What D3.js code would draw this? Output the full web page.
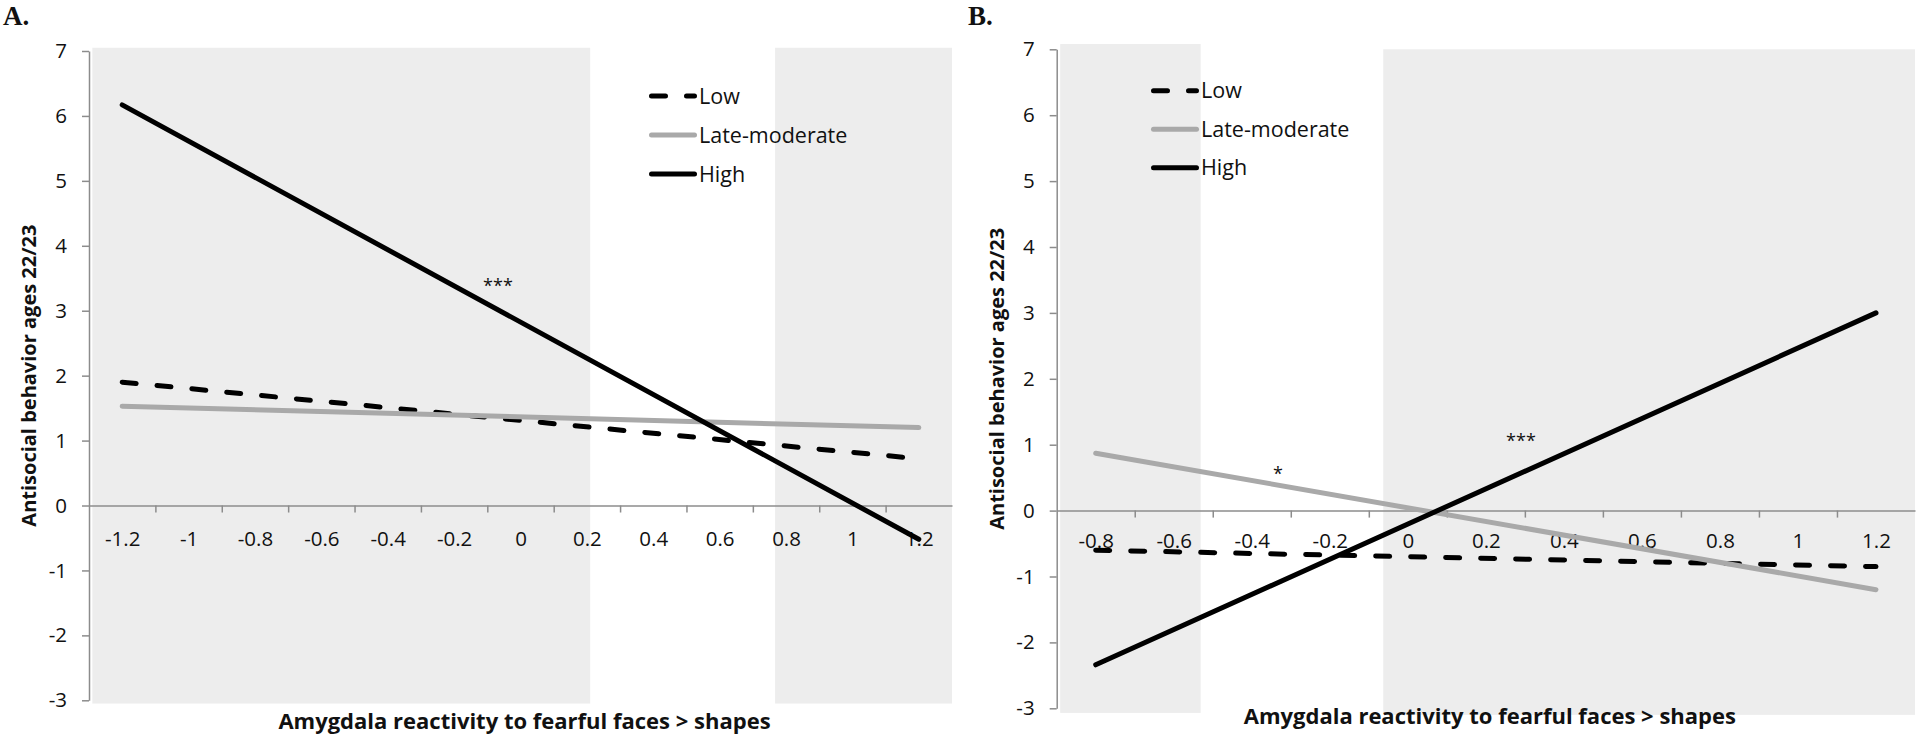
<!DOCTYPE html>
<html>
<head>
<meta charset="utf-8">
<script src="https://cdn.jsdelivr.net/npm/d3@7"></script>
<style>
  html, body { margin: 0; padding: 0; background: #fff; }
  svg { display: block; }
  text { font-family: "Open Sans", "Noto Sans", sans-serif; fill: #111; }
</style>
</head>
<body>
<svg id="chart" width="1920" height="741"></svg>
<script>
// ---------------- data ----------------
const seriesNames = ["Low", "Late-moderate", "High"];
const yTicks = [-3, -2, -1, 0, 1, 2, 3, 4, 5, 6, 7];

// Panel A
const categoriesA = [-1.2, -1, -0.8, -0.6, -0.4, -0.2, 0, 0.2, 0.4, 0.6, 0.8, 1, 1.2];
const endpointsA = [-1.2, 1.2];
const lowA  = [1.90, 0.72];
const lateA = [1.53, 1.20];
const highA = [6.17, -0.52];
const shadeXA = [[-1.29, 0.21], [0.767, 1.3]];
const shadeYA = [[-3.05, 7.05], [-3.05, 7.05]];
const sigA = [{ x: -0.068, y: 3.44, label: "***" }];

// Panel B
const categoriesB = [-0.8, -0.6, -0.4, -0.2, 0, 0.2, 0.4, 0.6, 0.8, 1, 1.2];
const endpointsB = [-0.8, 1.2];
const lowB  = [-0.60, -0.85];
const lateB = [0.87, -1.20];
const highB = [-2.34, 3.00];
const shadeXB = [[-0.891, -0.531], [-0.063, 1.3]];
const shadeYB = [[-3.07, 7.08], [-3.1, 7.0]];
const sigB = [{ x: -0.333, y: 0.62, label: "*" }, { x: 0.29, y: 1.12, label: "***" }];

const panelLabels = ["A.", "B."];
const yTitle = "Antisocial behavior ages 22/23";
const xTitle = "Amygdala reactivity to fearful faces > shapes";

// ---------------- styles ----------------
const seriesStyle = {
  "Low":           { color: "#000000", dash: "14,21" },
  "Late-moderate": { color: "#a9a9a9", dash: null },
  "High":          { color: "#000000", dash: null }
};
const axisColor = "#8c8c8c";
const shadeColor = "#ededed";

const svg = d3.select("#chart");

function drawPanel(cfg) {
  const step = cfg.categories[1] - cfg.categories[0];
  const n = cfg.categories.length;
  const x = d3.scaleLinear()
    .domain([cfg.categories[0] - step / 2, cfg.categories[n - 1] + step / 2])
    .range([cfg.x0, cfg.x1]);
  const y = d3.scaleLinear().domain([-3, 7]).range([cfg.yBot, cfg.yTop]);
  const g = svg.append("g");

  // shaded regions
  g.selectAll("rect.shade").data(cfg.shadeX).enter().append("rect")
    .attr("class", "shade")
    .attr("x", d => x(d[0]))
    .attr("width", d => x(d[1]) - x(d[0]))
    .attr("y", (d, i) => y(cfg.shadeY[i][1]))
    .attr("height", (d, i) => y(cfg.shadeY[i][0]) - y(cfg.shadeY[i][1]))
    .attr("fill", shadeColor);

  // y axis
  const yAxis = d3.axisLeft(y).tickValues(yTicks).tickSize(7).tickSizeOuter(0)
    .tickPadding(15).tickFormat(d => String(d));
  const ya = g.append("g").attr("transform", `translate(${cfg.x0},0)`).call(yAxis);
  ya.selectAll("path, line").attr("stroke", axisColor).attr("stroke-width", 1.5);
  ya.selectAll("text").attr("font-size", 20.5).attr("font-family", "Open Sans").attr("fill", "#111");

  // x axis at y = 0 : tick marks at category boundaries
  const boundaries = cfg.categories.slice(1).map(c => c - step / 2);
  const xMarks = d3.axisBottom(x).tickValues(boundaries).tickSize(7).tickSizeOuter(0).tickFormat("");
  const xm = g.append("g").attr("transform", `translate(0,${y(0)})`).call(xMarks);
  xm.selectAll("path, line").attr("stroke", axisColor).attr("stroke-width", 1.5);

  // category labels
  const xLabels = d3.axisBottom(x).tickValues(cfg.categories).tickSize(0)
    .tickPadding(cfg.labelPad).tickFormat(d => String(d));
  const xl = g.append("g").attr("transform", `translate(0,${y(0)})`).call(xLabels);
  xl.select(".domain").remove();
  xl.selectAll("text").attr("font-size", 20.5).attr("font-family", "Open Sans").attr("fill", "#111");

  // series lines
  const line = d3.line().x(d => x(d[0])).y(d => y(d[1]));
  const series = [
    { name: "Low", values: cfg.low },
    { name: "Late-moderate", values: cfg.late },
    { name: "High", values: cfg.high }
  ];
  series.forEach(s => {
    const pts = cfg.endpoints.map((c, i) => [c, s.values[i]]);
    const p = g.append("path").datum(pts)
      .attr("d", line)
      .attr("fill", "none")
      .attr("stroke", seriesStyle[s.name].color)
      .attr("stroke-width", 5)
      .attr("stroke-linecap", "round");
    if (seriesStyle[s.name].dash) p.attr("stroke-dasharray", seriesStyle[s.name].dash);
  });

  // significance markers
  g.selectAll("text.sig").data(cfg.sig).enter().append("text")
    .attr("class", "sig")
    .attr("x", d => x(d.x))
    .attr("y", d => y(d.y) + 10)
    .attr("text-anchor", "middle")
    .attr("font-size", 18)
    .text(d => d.label);

  // legend
  const lg = g.append("g");
  seriesNames.forEach((name, i) => {
    const ly = cfg.legendY + i * cfg.legendGap;
    const l = lg.append("line")
      .attr("x1", cfg.legendX + 2.5).attr("x2", cfg.legendX + 45.5)
      .attr("y1", ly).attr("y2", ly)
      .attr("stroke", seriesStyle[name].color)
      .attr("stroke-width", 5)
      .attr("stroke-linecap", "round");
    if (seriesStyle[name].dash) l.attr("stroke-dasharray", seriesStyle[name].dash);
    lg.append("text")
      .attr("x", cfg.legendX + 50).attr("y", ly + 7.5)
      .attr("font-size", 21.5)
      .text(name);
  });

  // axis titles
  g.append("text")
    .attr("transform", `translate(${cfg.x0 - 53},${(cfg.yTop + cfg.yBot) / 2}) rotate(-90)`)
    .attr("text-anchor", "middle")
    .attr("font-weight", "bold")
    .attr("font-size", 20)
    .text(yTitle);
  g.append("text")
    .attr("x", (cfg.x0 + cfg.x1) / 2 + 4)
    .attr("y", cfg.xTitleY)
    .attr("text-anchor", "middle")
    .attr("font-weight", "bold")
    .attr("font-size", 22)
    .text(xTitle);

  // panel label
  g.append("text")
    .attr("x", cfg.labelX).attr("y", 25)
    .attr("font-weight", "bold")
    .attr("font-size", 27)
    .style("font-family", "'Liberation Serif', serif")
    .text(cfg.panelLabel);
}

drawPanel({
  categories: categoriesA, endpoints: endpointsA,
  low: lowA, late: lateA, high: highA,
  shadeX: shadeXA, shadeY: shadeYA, sig: sigA,
  x0: 89, x1: 952, yTop: 51, yBot: 700.3,
  labelPad: 26, legendX: 649, legendY: 96, legendGap: 39,
  xTitleY: 729, labelX: 3, panelLabel: panelLabels[0]
});
drawPanel({
  categories: categoriesB, endpoints: endpointsB,
  low: lowB, late: lateB, high: highB,
  shadeX: shadeXB, shadeY: shadeYB, sig: sigB,
  x0: 1056.7, x1: 1915, yTop: 49.3, yBot: 708.3,
  labelPad: 23, legendX: 1151, legendY: 90.7, legendGap: 38.5,
  xTitleY: 724, labelX: 968, panelLabel: panelLabels[1]
});
</script>
</body>
</html>
